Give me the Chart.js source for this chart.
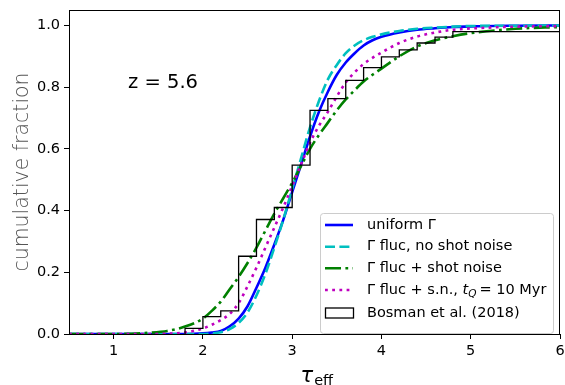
<!DOCTYPE html>
<html>
<head>
<meta charset="utf-8">
<script src="https://cdn.jsdelivr.net/npm/chart.js@4"></script>
<style>
  body { margin: 0; background: #fff; }
  #cdf { display: block; }
</style>
</head>
<body>
<canvas id="cdf" width="565" height="385"></canvas>
<script>
// tau_eff grid and cumulative fractions
const tauGrid = [0.5, 1.0, 1.2, 1.4, 1.6, 1.8, 2.0, 2.1, 2.2, 2.3, 2.4, 2.5, 2.6, 2.7, 2.8, 2.9,
  3.0, 3.1, 3.2, 3.3, 3.4, 3.5, 3.6, 3.7, 3.8, 3.9, 4.0, 4.2, 4.4, 4.6, 4.8, 5.0, 5.5, 6.0];
const uniformFrac = [0, 0, 0, 0, 0, 0, 0.002, 0.005, 0.01, 0.025, 0.05, 0.09, 0.15, 0.215, 0.29, 0.37,
  0.46, 0.55, 0.64, 0.72, 0.785, 0.84, 0.88, 0.91, 0.935, 0.952, 0.963, 0.977, 0.986, 0.991, 0.995, 0.997, 0.999, 1.0];
const flucFrac = [0, 0, 0, 0, 0, 0, 0, 0.002, 0.006, 0.016, 0.036, 0.07, 0.125, 0.195, 0.28, 0.37,
  0.47, 0.57, 0.67, 0.755, 0.825, 0.872, 0.91, 0.935, 0.952, 0.963, 0.971, 0.982, 0.989, 0.993, 0.996, 0.998, 0.999, 1.0];
const shotFrac = [0, 0, 0.001, 0.004, 0.01, 0.024, 0.05, 0.075, 0.105, 0.145, 0.185, 0.23, 0.28, 0.335, 0.39, 0.44,
  0.49, 0.545, 0.6, 0.645, 0.685, 0.725, 0.76, 0.79, 0.818, 0.84, 0.86, 0.9, 0.932, 0.952, 0.965, 0.975, 0.989, 0.995];
const tqFrac = [0, 0, 0, 0, 0.001, 0.005, 0.018, 0.03, 0.045, 0.065, 0.1, 0.155, 0.215, 0.28, 0.345, 0.41,
  0.48, 0.55, 0.62, 0.675, 0.72, 0.77, 0.815, 0.848, 0.875, 0.895, 0.912, 0.943, 0.964, 0.977, 0.986, 0.99, 0.996, 0.998];

// Bosman et al. (2018) cumulative histogram
const bosmanEdges = [1.8, 1.8, 2.0, 2.2, 2.4, 2.6, 2.8, 3.0, 3.2, 3.4, 3.6, 3.8, 4.0, 4.2, 4.4, 4.6, 4.8, 6.0];
const bosmanCum = [0, 0.018, 0.056, 0.075, 0.252, 0.371, 0.41, 0.547, 0.725, 0.763, 0.822, 0.863, 0.898, 0.921, 0.943, 0.962, 0.98, 0.98];

const xTicks = [1, 2, 3, 4, 5, 6];
const yTicks = [0, 0.2, 0.4, 0.6, 0.8, 1.0];

const FONT = '"DejaVu Sans", "Liberation Sans", sans-serif';
const LW = 2.6;

function pts(xs, ys) {
  return xs.map((x, i) => ({ x: x, y: ys[i] }));
}

const datasets = [
  { label: 'uniform \u0393', data: pts(tauGrid, uniformFrac), borderColor: '#0000ff',
    borderWidth: LW, borderDash: [], order: 5, cubicInterpolationMode: 'monotone' },
  { label: '\u0393 fluc, no shot noise', data: pts(tauGrid, flucFrac), borderColor: '#00bfbf',
    borderWidth: LW, borderDash: [10, 4.4], order: 4, cubicInterpolationMode: 'monotone' },
  { label: '\u0393 fluc + shot noise', data: pts(tauGrid, shotFrac), borderColor: '#008000',
    borderWidth: LW, borderDash: [16, 4.4, 2.8, 4.4], order: 3, cubicInterpolationMode: 'monotone' },
  { label: '\u0393 fluc + s.n., tQ = 10 Myr', data: pts(tauGrid, tqFrac), borderColor: '#bf00bf',
    borderWidth: LW, borderDash: [2.8, 4.4], order: 2, cubicInterpolationMode: 'monotone' },
  { label: 'Bosman et al. (2018)', data: pts(bosmanEdges, bosmanCum), borderColor: '#000000',
    borderWidth: 1.3, stepped: 'before', order: 1 }
];

// frame, axis labels, annotation and legend
const extras = {
  id: 'extras',
  afterDraw(chart) {
    const ctx = chart.ctx;
    const a = chart.chartArea;
    ctx.save();
    ctx.strokeStyle = '#000';
    ctx.lineWidth = 1;
    ctx.strokeRect(Math.round(a.left) + 0.5, Math.round(a.top) + 0.5,
      Math.round(a.right - a.left) - 1, Math.round(a.bottom - a.top));

    // x label: tau_eff
    ctx.fillStyle = '#000';
    ctx.textBaseline = 'alphabetic';
    ctx.textAlign = 'left';
    ctx.font = 'italic 21px ' + FONT;
    ctx.fillText('\u03c4', 300.5, 381.5);
    const tw = ctx.measureText('\u03c4').width;
    ctx.font = '14.5px ' + FONT;
    ctx.fillText('eff', 300.5 + tw + 1, 385);

    // y label
    ctx.save();
    ctx.translate(28, (a.top + a.bottom) / 2);
    ctx.rotate(-Math.PI / 2);
    ctx.textAlign = 'center';
    ctx.fillStyle = '#555';
    ctx.font = '200 20.5px ' + FONT;
    ctx.fillText('cumulative fraction', 0, 0);
    ctx.restore();

    // redshift annotation
    ctx.textAlign = 'left';
    ctx.fillStyle = '#000';
    ctx.font = '19.5px ' + FONT;
    ctx.fillText('z = 5.6', 128, 88);

    // legend
    ctx.beginPath();
    ctx.roundRect(320.5, 213.5, 233, 120, 3);
    ctx.fillStyle = 'rgba(255,255,255,0.8)';
    ctx.fill();
    ctx.strokeStyle = '#cccccc';
    ctx.lineWidth = 1;
    ctx.stroke();

    const rowY = [225, 246.7, 268.3, 290, 313];
    const x0 = 325, x1 = 353, tx = 367;
    chart.data.datasets.forEach((ds, i) => {
      const y = rowY[i];
      ctx.save();
      if (ds.stepped) {
        ctx.strokeStyle = '#000';
        ctx.lineWidth = 1.3;
        ctx.strokeRect(x0 + 0.5, y - 5, x1 - x0, 10);
      } else {
        ctx.strokeStyle = ds.borderColor;
        ctx.lineWidth = ds.borderWidth;
        ctx.setLineDash(ds.borderDash || []);
        ctx.beginPath();
        ctx.moveTo(x0, y);
        ctx.lineTo(x1, y);
        ctx.stroke();
      }
      ctx.restore();
      ctx.fillStyle = '#000';
      ctx.textBaseline = 'middle';
      ctx.font = '14.5px ' + FONT;
      if (i === 3) {
        let x = tx;
        const part1 = '\u0393 fluc + s.n., ';
        ctx.fillText(part1, x, y);
        x += ctx.measureText(part1).width;
        ctx.font = 'italic 14.5px ' + FONT;
        ctx.fillText('t', x, y);
        x += ctx.measureText('t').width;
        ctx.font = 'italic 10.5px ' + FONT;
        ctx.fillText('Q', x, y + 4);
        x += ctx.measureText('Q').width + 3;
        ctx.font = '14.5px ' + FONT;
        ctx.fillText('= 10 Myr', x, y);
      } else {
        ctx.fillText(ds.label, tx, y);
      }
    });
    ctx.restore();
  }
};

new Chart(document.getElementById('cdf'), {
  type: 'line',
  data: { datasets: datasets },
  options: {
    responsive: false,
    animation: false,
    layout: { padding: { top: 10, right: 5, left: 0, bottom: 0 } },
    plugins: { legend: { display: false }, tooltip: { enabled: false } },
    elements: { point: { radius: 0 }, line: { tension: 0, fill: false } },
    scales: {
      x: {
        type: 'linear', min: 0.5, max: 6,
        afterFit: s => { s.height = 51; s.paddingLeft = 0; s.paddingRight = 0; },
        afterBuildTicks: s => { s.ticks = xTicks.map(v => ({ value: v })); },
        ticks: { color: '#000', font: { family: FONT, size: 14.5 }, padding: 4, maxRotation: 0,
          callback: v => String(v) },
        grid: { drawOnChartArea: false, color: '#000', tickLength: 5, tickWidth: 1 },
        border: { color: '#000', width: 1 }
      },
      y: {
        type: 'linear', min: 0, max: 1.05,
        afterFit: s => { s.width = 69; s.paddingTop = 0; s.paddingBottom = 0; },
        afterBuildTicks: s => { s.ticks = yTicks.map(v => ({ value: v })); },
        ticks: { color: '#000', font: { family: FONT, size: 14.5 }, padding: 4,
          callback: v => v.toFixed(1) },
        grid: { drawOnChartArea: false, color: '#000', tickLength: 5, tickWidth: 1 },
        border: { color: '#000', width: 1 }
      }
    }
  },
  plugins: [extras]
});
</script>
</body>
</html>
